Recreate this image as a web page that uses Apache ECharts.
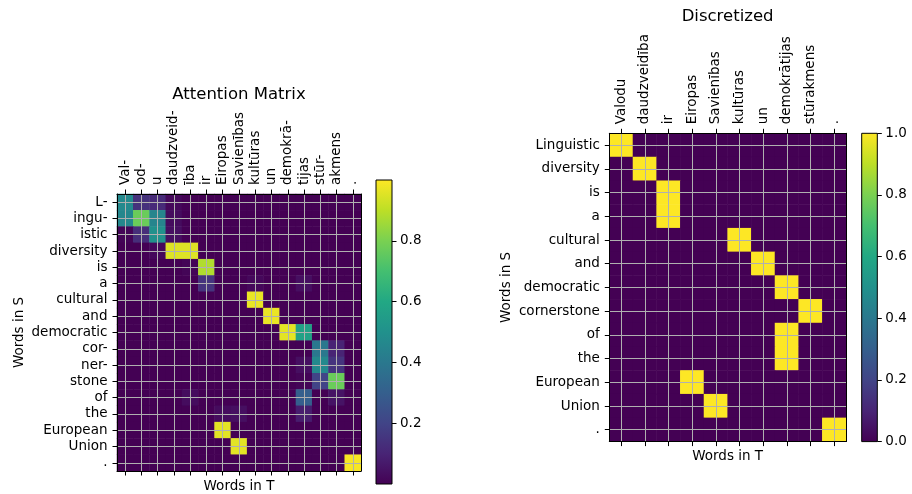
<!DOCTYPE html>
<html><head><meta charset="utf-8">
<script src="https://cdn.jsdelivr.net/npm/echarts@6/dist/echarts.min.js"></script>
<style>html,body{margin:0;padding:0;background:#fff}#c{width:912px;height:494px}</style>
</head><body><div id="c"></div>
<script>
// ---------- data ----------
const srcTokens = ['L-','ingu-','istic','diversity','is','a','cultural','and','democratic','cor-','ner-','stone','of','the','European','Union','.'];
const tgtTokens = ['Val-','od-','u','daudzveid-','ība','ir','Eiropas','Savienības','kultūras','un','demokrā-','tijas','stūr-','akmens','.'];
// attention weights: one row per source token, one column per target token
const attention = [
  [0.47,0.14,0.12,0.02,0.00,0.00,0.00,0.00,0.00,0.00,0.00,0.00,0.00,0.00,0.00],
  [0.46,0.77,0.45,0.03,0.00,0.00,0.00,0.00,0.00,0.00,0.00,0.00,0.00,0.00,0.00],
  [0.01,0.13,0.50,0.04,0.00,0.00,0.00,0.00,0.00,0.00,0.00,0.00,0.00,0.00,0.00],
  [0.00,0.00,0.02,0.95,0.95,0.00,0.00,0.00,0.00,0.00,0.00,0.00,0.00,0.00,0.00],
  [0.00,0.00,0.00,0.00,0.01,0.88,0.00,0.00,0.00,0.00,0.00,0.00,0.00,0.00,0.00],
  [0.00,0.00,0.00,0.00,0.00,0.15,0.00,0.00,0.02,0.00,0.00,0.04,0.00,0.00,0.00],
  [0.00,0.00,0.00,0.00,0.00,0.00,0.00,0.00,0.97,0.00,0.00,0.00,0.00,0.00,0.00],
  [0.00,0.00,0.00,0.00,0.00,0.00,0.00,0.00,0.00,0.97,0.00,0.00,0.00,0.00,0.00],
  [0.00,0.00,0.00,0.00,0.00,0.00,0.00,0.00,0.00,0.00,0.96,0.57,0.00,0.00,0.00],
  [0.00,0.00,0.00,0.00,0.00,0.00,0.00,0.00,0.00,0.00,0.00,0.00,0.40,0.10,0.00],
  [0.00,0.00,0.00,0.00,0.00,0.00,0.00,0.00,0.00,0.00,0.00,0.04,0.47,0.15,0.00],
  [0.00,0.00,0.00,0.00,0.00,0.00,0.00,0.00,0.00,0.00,0.00,0.01,0.20,0.77,0.00],
  [0.00,0.00,0.00,0.00,0.03,0.00,0.00,0.00,0.00,0.00,0.00,0.30,0.00,0.05,0.00],
  [0.00,0.00,0.00,0.00,0.00,0.00,0.03,0.04,0.00,0.00,0.00,0.08,0.00,0.00,0.00],
  [0.00,0.00,0.00,0.00,0.00,0.00,0.96,0.00,0.00,0.00,0.00,0.00,0.00,0.00,0.00],
  [0.00,0.00,0.00,0.00,0.00,0.00,0.00,0.96,0.00,0.00,0.00,0.00,0.00,0.00,0.00],
  [0.00,0.00,0.00,0.00,0.00,0.00,0.00,0.00,0.00,0.00,0.00,0.00,0.00,0.00,0.99]
];
const srcWords = ['Linguistic','diversity','is','a','cultural','and','democratic','cornerstone','of','the','European','Union','.'];
const tgtWords = ['Valodu','daudzveidība','ir','Eiropas','Savienības','kultūras','un','demokrātijas','stūrakmens','.'];
// discretized alignment (1 = aligned)
const discretized = [
  [1,0,0,0,0,0,0,0,0,0],
  [0,1,0,0,0,0,0,0,0,0],
  [0,0,1,0,0,0,0,0,0,0],
  [0,0,1,0,0,0,0,0,0,0],
  [0,0,0,0,0,1,0,0,0,0],
  [0,0,0,0,0,0,1,0,0,0],
  [0,0,0,0,0,0,0,1,0,0],
  [0,0,0,0,0,0,0,0,1,0],
  [0,0,0,0,0,0,0,1,0,0],
  [0,0,0,0,0,0,0,1,0,0],
  [0,0,0,1,0,0,0,0,0,0],
  [0,0,0,0,1,0,0,0,0,0],
  [0,0,0,0,0,0,0,0,0,1]
];
const leftCbarTicks = [0.2,0.4,0.6,0.8];
const rightCbarTicks = [0.0,0.2,0.4,0.6,0.8,1.0];
const titles = ['Attention Matrix','Discretized'];

// ---------- style ----------
const viridis = ['#440154','#482475','#414487','#355f8d','#2a788e','#21918c','#22a884','#44bf70','#7ad151','#bddf26','#fde725'];
const FONT = 'DejaVu Sans';
const FS = 13.5;
const GRIDC = '#b0b0b0';

function toCells(mat){
  const out = [];
  mat.forEach((row, r) => row.forEach((v, c) => out.push([c, r, v])));
  return out;
}
function gradient(){
  return new echarts.graphic.LinearGradient(0, 1, 0, 0,
    viridis.map((c, i) => ({offset: i / (viridis.length - 1), color: c})));
}
const txt = {color:'#000', fontFamily: FONT, fontSize: FS};

function topAxis(grid, data){
  return {type:'category', gridIndex:grid, data, position:'top', z:5,
    axisLine:{show:true, lineStyle:{color:'#000', width:1}},
    axisTick:{show:true, alignWithLabel:true, interval:0, length:4.5, lineStyle:{color:'#000'}},
    axisLabel:Object.assign({rotate:-90, interval:0, margin:9}, txt),
    splitLine:{show:true, alignWithLabel:true, interval:0, lineStyle:{color:GRIDC, width:1, opacity:1}}};
}
function bottomAxis(grid, data, gap){
  return {type:'category', gridIndex:grid, data, position:'bottom', z:5,
    axisLine:{show:true, lineStyle:{color:'#000', width:1}},
    axisTick:{show:true, alignWithLabel:true, interval:0, length:4.5, lineStyle:{color:'#000'}},
    axisLabel:{show:false}, splitLine:{show:false},
    name:'Words in T', nameLocation:'middle', nameGap:gap, nameTextStyle:txt};
}
function leftAxis(grid, data, gap){
  return {type:'category', gridIndex:grid, data, inverse:true, position:'left', z:5,
    axisLine:{show:true, lineStyle:{color:'#000', width:1}},
    axisTick:{show:true, alignWithLabel:true, interval:0, length:4.5, lineStyle:{color:'#000'}},
    axisLabel:Object.assign({interval:0, margin:9.5}, txt),
    splitLine:{show:true, alignWithLabel:true, interval:0, lineStyle:{color:GRIDC, width:1, opacity:1}},
    name:'Words in S', nameLocation:'middle', nameGap:gap, nameTextStyle:txt};
}
function rightFrameAxis(grid, data){
  return {type:'category', gridIndex:grid, data, inverse:true, position:'right', z:5,
    axisLine:{show:true, lineStyle:{color:'#000', width:1}},
    axisTick:{show:false}, axisLabel:{show:false}, splitLine:{show:false}};
}
function cbarY(grid, ticks, fmt){
  return {type:'value', gridIndex:grid, min:0, max:1, position:'right', z:5,
    axisLine:{show:false},
    axisTick:{show:true, length:4.5, customValues:ticks, lineStyle:{color:'#000'}},
    axisLabel:Object.assign({margin:8, customValues:ticks, formatter:fmt}, txt),
    splitLine:{show:false}};
}
function cbarX(grid){
  return {type:'category', gridIndex:grid, data:[''], show:false};
}

const chart = echarts.init(document.getElementById('c'), null, {renderer:'canvas'});
chart.setOption({
  animation:false,
  backgroundColor:'#fff',
  grid:[
    {left:117, top:194, width:244, height:277, outerBoundsMode:'none'},
    {left:609.3, top:133.3, width:236.7, height:308.3, outerBoundsMode:'none'},
    {left:376, top:180, width:16, height:304, show:true, borderColor:'#000', borderWidth:1, backgroundColor:gradient(), outerBoundsMode:'none'},
    {left:861.7, top:133.3, width:15.6, height:308.3, show:true, borderColor:'#000', borderWidth:1, backgroundColor:gradient(), outerBoundsMode:'none'}
  ],
  xAxis:[
    topAxis(0, tgtTokens), bottomAxis(0, tgtTokens, 8),
    topAxis(1, tgtWords), bottomAxis(1, tgtWords, 8),
    cbarX(2), cbarX(3)
  ],
  yAxis:[
    leftAxis(0, srcTokens, 91), rightFrameAxis(0, srcTokens),
    leftAxis(1, srcWords, 96), rightFrameAxis(1, srcWords),
    cbarY(2, leftCbarTicks, v => v.toFixed(1)),
    cbarY(3, rightCbarTicks, v => v.toFixed(1))
  ],
  visualMap:[
    {type:'continuous', show:false, seriesIndex:0, min:0, max:1, inRange:{color:viridis}},
    {type:'continuous', show:false, seriesIndex:1, min:0, max:1, inRange:{color:viridis}}
  ],
  graphic:[
    {type:'text', x:239, y:95, style:{text:titles[0], textAlign:'center', textVerticalAlign:'middle', font:'16.5px "DejaVu Sans"', fill:'#000'}},
    {type:'text', x:727.6, y:17, style:{text:titles[1], textAlign:'center', textVerticalAlign:'middle', font:'16.5px "DejaVu Sans"', fill:'#000'}}
  ],
  series:[
    {type:'heatmap', xAxisIndex:0, yAxisIndex:0, data:toCells(attention), z:1,
      itemStyle:{borderWidth:0}, emphasis:{disabled:true}, progressive:0},
    {type:'heatmap', xAxisIndex:2, yAxisIndex:2, data:toCells(discretized), z:1,
      itemStyle:{borderWidth:0}, emphasis:{disabled:true}, progressive:0}
  ]
});
</script>
</body></html>
